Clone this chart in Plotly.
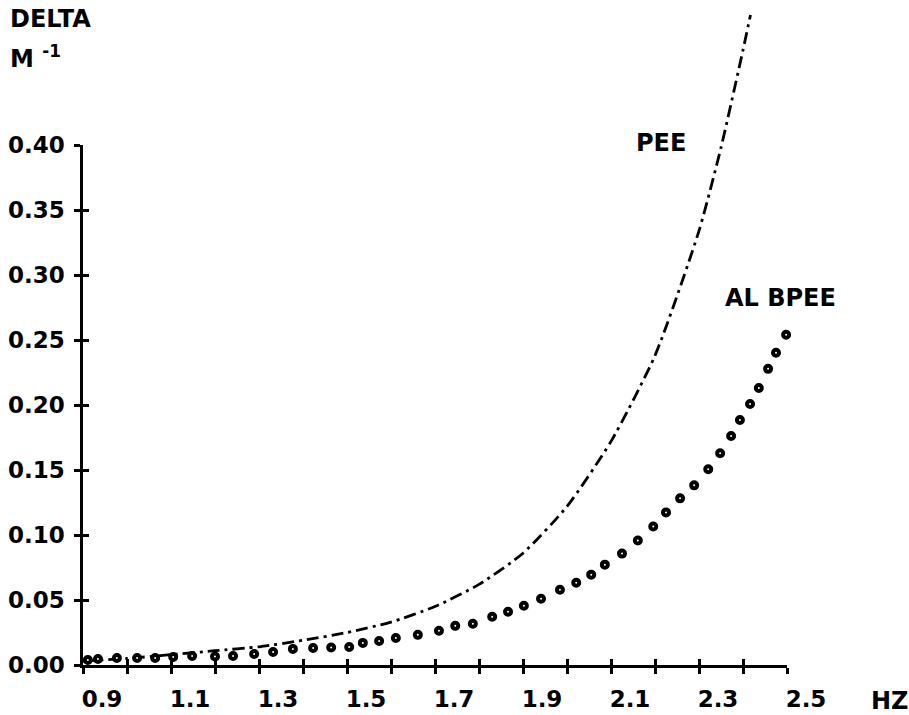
import plotly.graph_objects as go

# Attenuation DELTA (1/m) against frequency (Hz)
freq_major = [0.9, 1.1, 1.3, 1.5, 1.7, 1.9, 2.1, 2.3, 2.5]
freq_labels = ["0.9", "1.1", "1.3", "1.5", "1.7", "1.9", "2.1", "2.3", "2.5"]
freq_step = 0.1
delta_ticks = [0.00, 0.05, 0.10, 0.15, 0.20, 0.25, 0.30, 0.35, 0.40]
delta_labels = ["0.00", "0.05", "0.10", "0.15", "0.20", "0.25", "0.30", "0.35", "0.40"]

# PEE curve
pee_hz = [0.9, 1.0, 1.1, 1.2, 1.3, 1.4, 1.5, 1.6, 1.7, 1.8, 1.9, 2.0, 2.1,
          2.2, 2.3, 2.35, 2.4, 2.417]
pee_delta = [0.003, 0.005, 0.008, 0.011, 0.014, 0.019, 0.025, 0.033, 0.045,
             0.062, 0.086, 0.122, 0.172, 0.238, 0.334, 0.398, 0.473, 0.500]

# ALBPEE curve (plotted symbols)
albpee_hz = [0.911, 0.934, 0.977, 1.023, 1.064, 1.105, 1.148, 1.200, 1.241,
             1.289, 1.332, 1.377, 1.423, 1.464, 1.505, 1.536, 1.573, 1.611,
             1.661, 1.709, 1.746, 1.786, 1.830, 1.866, 1.902, 1.941, 1.984,
             2.021, 2.055, 2.086, 2.125, 2.161, 2.196, 2.225, 2.257, 2.289,
             2.321, 2.348, 2.373, 2.393, 2.416, 2.436, 2.457, 2.475, 2.498]
albpee_delta = [0.0039, 0.0046, 0.0054, 0.0054, 0.0054, 0.0062, 0.0069, 0.0066,
                0.0069, 0.0085, 0.0100, 0.0124, 0.0131, 0.0135, 0.0139, 0.0170,
                0.0185, 0.0208, 0.0232, 0.0263, 0.0301, 0.0317, 0.0371, 0.0409,
                0.0456, 0.0510, 0.0579, 0.0633, 0.0695, 0.0772, 0.0857, 0.0958,
                0.1066, 0.1174, 0.1282, 0.1382, 0.1506, 0.1629, 0.1761, 0.1884,
                0.2008, 0.2131, 0.2278, 0.2402, 0.2541]

W, H = 909, 715
M_L, M_R, M_T, M_B = 83, 122, 5, 50
plot_h = H - M_T - M_B
px_per_unit = 1300.0
axis_top = 0.40

FONT = dict(family="DejaVu Sans", size=23, color="black", weight="bold")

fig = go.Figure()

# data live on x / y2: y2 spans the full plot height with the same scale as the drawn axis
fig.add_trace(go.Scatter(
    x=pee_hz, y=pee_delta, xaxis="x", yaxis="y2",
    mode="lines",
    line=dict(color="black", width=2.8, dash="12px,5px,3px,5px", shape="spline", smoothing=0.6),
    showlegend=False, hoverinfo="skip"))

fig.add_trace(go.Scatter(
    x=albpee_hz, y=albpee_delta, xaxis="x", yaxis="y2",
    mode="markers",
    marker=dict(symbol="circle", size=6, color="white", line=dict(color="black", width=4)),
    showlegend=False, hoverinfo="skip", cliponaxis=False))

# empty traces so every axis (drawn axis + its inside-tick twin) is registered
for xa, ya in (("x", "y"), ("x2", "y3")):
    fig.add_trace(go.Scatter(x=[None], y=[None], xaxis=xa, yaxis=ya,
                             showlegend=False, hoverinfo="skip"))

minor_out = dict(tick0=freq_major[0], dtick=freq_step, ticks="outside",
                 ticklen=6, tickwidth=2.5, tickcolor="black", showgrid=False)
minor_in = dict(minor_out, ticks="inside")

common_x = dict(range=[0.9, 2.5], tickvals=freq_major, showgrid=False, zeroline=False,
                ticklen=6, tickwidth=2.5, tickcolor="black", fixedrange=True, automargin=False)
common_y = dict(range=[0, axis_top], tickvals=delta_ticks, showgrid=False, zeroline=False,
                ticklen=6, tickwidth=2.5, tickcolor="black", fixedrange=True, automargin=False)
y_domain = [0, axis_top * px_per_unit / plot_h]

fig.update_layout(
    template="none",
    width=W, height=H,
    margin=dict(l=M_L, r=M_R, t=M_T, b=M_B, pad=0, autoexpand=False),
    paper_bgcolor="white", plot_bgcolor="rgba(0,0,0,0)",
    font=FONT,
    xaxis=dict(**common_x, anchor="y", ticks="outside", ticktext=freq_labels, minor=minor_out,
               showline=True, linecolor="black", linewidth=2.5,
               tickfont=FONT, ticklabelshift=19, ticklabelstandoff=6),
    xaxis2=dict(**common_x, overlaying="x", anchor="y", side="bottom", minor=minor_in,
                ticks="inside", showticklabels=False, showline=False),
    yaxis=dict(**common_y, domain=y_domain, anchor="x",
               ticks="outside", ticktext=delta_labels,
               showline=True, linecolor="black", linewidth=2.5,
               tickfont=FONT, ticklabelstandoff=5),
    yaxis3=dict(**common_y, domain=y_domain, overlaying="y", anchor="x", side="left",
                ticks="inside", showticklabels=False, showline=False),
    yaxis2=dict(domain=[0, 1], range=[0, plot_h / px_per_unit], anchor="x",
                visible=False, fixedrange=True, automargin=False),
)


def px_x(p):
    return (p - M_L) / (W - M_L - M_R)


def px_y(p):
    return (H - M_B - p) / plot_h


fig.add_annotation(text="DELTA", xref="paper", yref="paper", x=px_x(8), y=px_y(19),
                   xanchor="left", yanchor="middle", showarrow=False, font=dict(FONT, size=24))
fig.add_annotation(text="M <sup>-1</sup>", xref="paper", yref="paper", x=px_x(8), y=px_y(57),
                   xanchor="left", yanchor="middle", showarrow=False, font=dict(FONT, size=24))
fig.add_annotation(text="HZ", xref="paper", yref="paper", x=px_x(869), y=px_y(701),
                   xanchor="left", yanchor="middle", showarrow=False, font=dict(FONT, size=24))
fig.add_annotation(text="PEE", xref="x", yref="y2", x=2.2136, y=0.4015,
                   xanchor="center", yanchor="middle", showarrow=False, font=dict(FONT, size=24))
fig.add_annotation(text="AL BPEE", xref="x", yref="y2", x=2.485, y=0.2823,
                   xanchor="center", yanchor="middle", showarrow=False, font=dict(FONT, size=24))

fig.write_html("out.html")
